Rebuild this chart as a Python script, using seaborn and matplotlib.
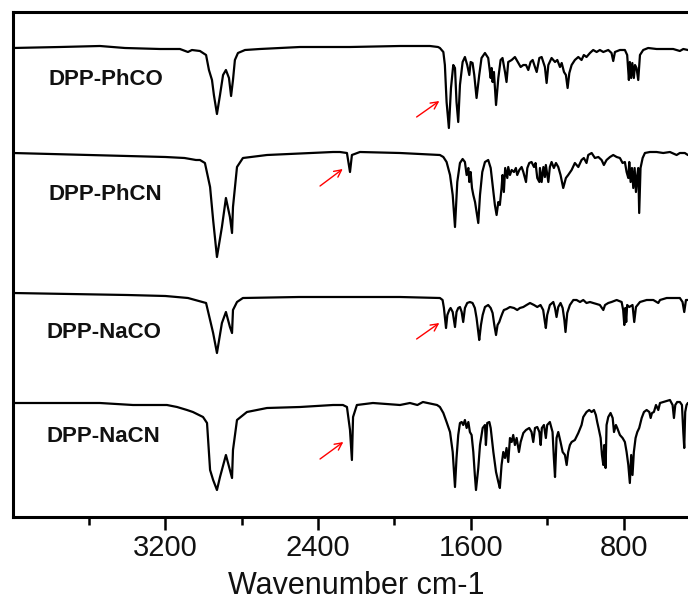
import matplotlib
matplotlib.use("Agg")
import matplotlib.pyplot as plt
import seaborn as sns
import pandas as pd

# ---------------- data (wavenumber cm-1, stacked transmittance a.u.) ----------------
samples = ["DPP-PhCO", "DPP-PhCN", "DPP-NaCO", "DPP-NaCN"]

phco = [(4000, 469), (3752, 470), (3543, 471), (3412, 469), (3228, 468), (3124, 468), (3082, 465),
        (3061, 467), (3019, 466), (2987, 462), (2972, 447), (2956, 437), (2946, 422), (2930, 403),
        (2914, 422), (2898, 442), (2883, 447), (2867, 439), (2856, 421), (2846, 437), (2836, 457),
        (2820, 464), (2783, 467), (2705, 468), (2495, 470), (2233, 470), (1971, 471), (1814, 471),
        (1772, 470), (1762, 469), (1744, 465), (1736, 452), (1727, 415), (1715, 389), (1704, 429),
        (1692, 452), (1683, 449), (1675, 415), (1666, 395), (1657, 432), (1643, 455), (1631, 460),
        (1619, 452), (1608, 442), (1601, 455), (1591, 454), (1582, 442), (1570, 419), (1556, 442),
        (1544, 459), (1526, 464), (1509, 459), (1496, 439), (1491, 449), (1486, 435), (1479, 445),
        (1468, 412), (1456, 439), (1444, 457), (1434, 459), (1421, 445), (1413, 435), (1404, 455),
        (1386, 457), (1369, 460), (1351, 454), (1339, 450), (1325, 452), (1311, 452), (1299, 447),
        (1287, 455), (1276, 457), (1264, 450), (1255, 445), (1241, 459), (1229, 460), (1212, 450),
        (1203, 434), (1194, 452), (1177, 459), (1159, 455), (1147, 457), (1133, 450), (1124, 454),
        (1112, 445), (1102, 442), (1093, 429), (1084, 444), (1072, 452), (1055, 457), (1037, 460),
        (1020, 457), (1008, 462), (994, 460), (976, 464), (959, 467), (941, 465), (924, 467),
        (906, 465), (880, 467), (863, 464), (854, 456), (845, 465), (819, 467), (793, 467),
        (781, 462), (772, 437), (767, 455), (760, 439), (754, 454), (746, 439), (740, 452),
        (732, 449), (723, 437), (714, 462), (697, 467), (671, 469), (627, 468), (540, 468),
        (505, 466), (487, 468), (463, 467), (400, 467)]

phcn = [(4000, 364), (3800, 363), (3600, 362), (3400, 361), (3200, 360), (3100, 359), (3040, 357),
        (3019, 357), (2993, 354), (2966, 330), (2950, 297), (2930, 260), (2904, 290), (2883, 319),
        (2862, 300), (2851, 284), (2846, 310), (2825, 350), (2794, 359), (2668, 362), (2322, 365),
        (2286, 365), (2249, 364), (2244, 358), (2233, 345), (2223, 362), (2181, 365), (1971, 364),
        (1762, 362), (1744, 360), (1727, 355), (1709, 342), (1695, 322), (1683, 290), (1671, 335),
        (1657, 354), (1643, 358), (1631, 355), (1622, 342), (1613, 349), (1608, 335), (1601, 345),
        (1594, 329), (1587, 322), (1578, 315), (1570, 305), (1561, 294), (1552, 322), (1540, 345),
        (1526, 355), (1509, 357), (1496, 349), (1486, 332), (1474, 312), (1465, 302), (1456, 315),
        (1448, 312), (1439, 329), (1434, 342), (1427, 325), (1420, 349), (1409, 339), (1404, 350),
        (1395, 342), (1386, 347), (1374, 345), (1364, 349), (1357, 342), (1346, 347), (1334, 350),
        (1325, 345), (1311, 335), (1304, 349), (1294, 354), (1282, 355), (1269, 350), (1261, 354),
        (1252, 339), (1241, 335), (1238, 349), (1229, 335), (1220, 350), (1212, 340), (1207, 352),
        (1194, 335), (1186, 350), (1177, 355), (1165, 349), (1154, 354), (1142, 350), (1130, 342),
        (1116, 329), (1102, 339), (1090, 342), (1072, 347), (1055, 354), (1037, 350), (1020, 357),
        (1008, 359), (994, 354), (985, 362), (967, 364), (950, 359), (932, 360), (915, 357),
        (903, 352), (889, 357), (871, 360), (854, 362), (836, 360), (819, 359), (805, 354),
        (793, 355), (784, 345), (775, 339), (770, 355), (763, 335), (756, 349), (749, 329),
        (742, 349), (735, 325), (728, 342), (723, 349), (718, 304), (711, 349), (700, 359),
        (688, 364), (662, 365), (627, 365), (592, 364), (557, 365), (522, 362), (505, 364),
        (479, 364), (463, 362), (400, 362)]

naco = [(4000, 224), (3700, 223), (3400, 222), (3200, 221), (3082, 219), (2987, 214), (2966, 197),
        (2950, 184), (2930, 164), (2904, 194), (2883, 205), (2862, 190), (2851, 184), (2846, 207),
        (2825, 215), (2794, 219), (2500, 220), (2200, 220), (1971, 220), (1762, 219), (1748, 217),
        (1741, 209), (1730, 189), (1723, 202), (1713, 207), (1706, 209), (1695, 205), (1683, 190),
        (1675, 205), (1666, 209), (1657, 210), (1648, 205), (1640, 195), (1631, 209), (1619, 214),
        (1605, 215), (1591, 214), (1579, 209), (1570, 199), (1561, 185), (1556, 177), (1547, 192),
        (1538, 202), (1526, 210), (1509, 212), (1496, 209), (1486, 204), (1477, 192), (1468, 182),
        (1460, 192), (1451, 195), (1442, 200), (1434, 204), (1427, 207), (1413, 208), (1395, 210),
        (1374, 209), (1357, 207), (1343, 209), (1325, 210), (1308, 212), (1290, 214), (1269, 212),
        (1252, 210), (1235, 212), (1221, 207), (1212, 195), (1207, 189), (1200, 202), (1186, 212),
        (1168, 215), (1159, 209), (1151, 200), (1142, 210), (1130, 214), (1119, 209), (1110, 197),
        (1104, 185), (1095, 204), (1081, 212), (1063, 217), (1046, 217), (1028, 215), (1011, 217),
        (994, 214), (976, 215), (959, 214), (941, 213), (924, 212), (906, 207), (897, 212),
        (880, 214), (863, 215), (836, 217), (810, 215), (802, 207), (796, 192), (791, 209),
        (786, 195), (781, 212), (770, 210), (753, 212), (744, 195), (735, 210), (714, 215),
        (679, 217), (644, 217), (618, 214), (609, 217), (574, 219), (540, 219), (505, 219),
        (491, 215), (482, 205), (473, 217), (463, 217), (400, 217)]

nacn = [(4000, 114), (3543, 114), (3370, 112), (3192, 112), (3139, 110), (3087, 107), (3056, 105),
        (3003, 100), (2982, 94), (2966, 47), (2950, 37), (2930, 27), (2914, 40), (2883, 62),
        (2862, 47), (2851, 39), (2846, 67), (2825, 97), (2773, 105), (2668, 109), (2495, 110),
        (2322, 112), (2270, 112), (2249, 110), (2233, 87), (2223, 57), (2217, 100), (2197, 112),
        (2113, 114), (1971, 112), (1919, 114), (1880, 112), (1851, 115), (1777, 112),
        (1762, 110), (1744, 104), (1727, 95), (1709, 85), (1695, 65), (1688, 45), (1683, 30),
        (1675, 59), (1666, 82), (1657, 94), (1648, 95), (1640, 92), (1631, 97), (1622, 89),
        (1613, 95), (1605, 85), (1596, 82), (1587, 65), (1579, 42), (1573, 27), (1561, 49),
        (1552, 72), (1538, 89), (1526, 92), (1521, 72), (1514, 94), (1503, 95), (1496, 89),
        (1482, 65), (1468, 45), (1456, 35), (1448, 29), (1439, 52), (1430, 65), (1421, 59),
        (1413, 69), (1404, 55), (1395, 79), (1386, 75), (1378, 82), (1369, 72), (1360, 79),
        (1348, 65), (1339, 75), (1325, 84), (1311, 87), (1294, 89), (1282, 85), (1273, 75),
        (1264, 89), (1252, 90), (1241, 85), (1234, 72), (1228, 89), (1217, 92), (1207, 79),
        (1200, 92), (1186, 95), (1172, 85), (1165, 59), (1159, 40), (1151, 79), (1142, 85),
        (1130, 75), (1119, 65), (1107, 62), (1098, 52), (1090, 65), (1081, 72), (1072, 75),
        (1055, 77), (1037, 84), (1020, 92), (1011, 100), (994, 105), (980, 107), (967, 105),
        (955, 107), (945, 102), (938, 95), (931, 89), (920, 79), (913, 62), (906, 52), (901, 72),
        (894, 49), (889, 92), (880, 100), (868, 104), (857, 99), (850, 85), (840, 92), (833, 89),
        (819, 82), (805, 79), (793, 75), (784, 65), (775, 52), (767, 34), (760, 62), (753, 42),
        (746, 65), (737, 79), (728, 85), (718, 89), (705, 99), (693, 105), (679, 107), (665, 105),
        (658, 99), (651, 104), (641, 105), (630, 112), (618, 107), (609, 114), (592, 115),
        (574, 116), (557, 117), (543, 112), (536, 99), (529, 112), (519, 115), (505, 115),
        (494, 112), (487, 85), (482, 69), (477, 105), (470, 112), (463, 114), (400, 114)]

spectra = {"DPP-PhCO": phco, "DPP-PhCN": phcn, "DPP-NaCO": naco, "DPP-NaCN": nacn}

label_wn = [3815, 3810, 3823, 3823]
label_t = [432, 317, 179, 75]

arrow_tail_wn = [1884, 2390, 1884, 2390]
arrow_tail_t = [400, 331, 178, 58]
arrow_head_wn = [1765, 2271, 1765, 2268]
arrow_head_t = [416, 348, 194, 75]

major_ticks = [3200, 2400, 1600, 800]
minor_ticks = [3600, 2800, 2000, 1200, 400]
x_label = "Wavenumber cm-1"

# ---------------- figure ----------------
sns.set_theme(style="white")
plt.rcParams["font.family"] = ["Liberation Sans", "DejaVu Sans"]

fig = plt.figure(figsize=(6.88, 6.06), dpi=100)
ax = fig.add_axes([12.7 / 688, 89 / 606, 687.2 / 688, 505 / 606])

rows = []
for name in samples:
    for wn, t in spectra[name]:
        rows.append({"sample": name, "wn": wn, "T": t})
df = pd.DataFrame(rows)

for name in samples:
    sns.lineplot(data=df[df["sample"] == name], x="wn", y="T", sort=False,
                 estimator=None, color="black", linewidth=1.6, ax=ax)

for name, x, y in zip(samples, label_wn, label_t):
    ax.text(x, y, name, fontsize=16, fontweight="bold", ha="left", va="baseline",
            color="#111111")

for tx, ty, hx, hy in zip(arrow_tail_wn, arrow_tail_t, arrow_head_wn, arrow_head_t):
    ax.annotate("", xy=(hx, hy), xytext=(tx, ty),
                arrowprops=dict(arrowstyle="->", color="red", lw=1.0,
                                mutation_scale=13, shrinkA=0, shrinkB=0))

ax.set_xlim(4000, 400)
ax.set_ylim(0, 505)
ax.set_yticks([])
ax.set_ylabel("")
ax.set_xticks(major_ticks)
ax.set_xticks(minor_ticks, minor=True)
ax.set_xticklabels([str(v) for v in major_ticks])
ax.tick_params(axis="x", which="major", direction="out", length=9, width=1.8,
               labelsize=21, pad=3, bottom=True, color="black", labelcolor="#111111")
ax.tick_params(axis="x", which="minor", direction="out", length=5.5, width=1.8,
               bottom=True, color="black")
ax.set_xlabel(x_label, fontsize=22, labelpad=7, color="#111111")

for s in ax.spines.values():
    s.set_visible(True)
    s.set_color("black")
    s.set_linewidth(2.2)

fig.savefig("out.png", dpi=100, facecolor="white")
